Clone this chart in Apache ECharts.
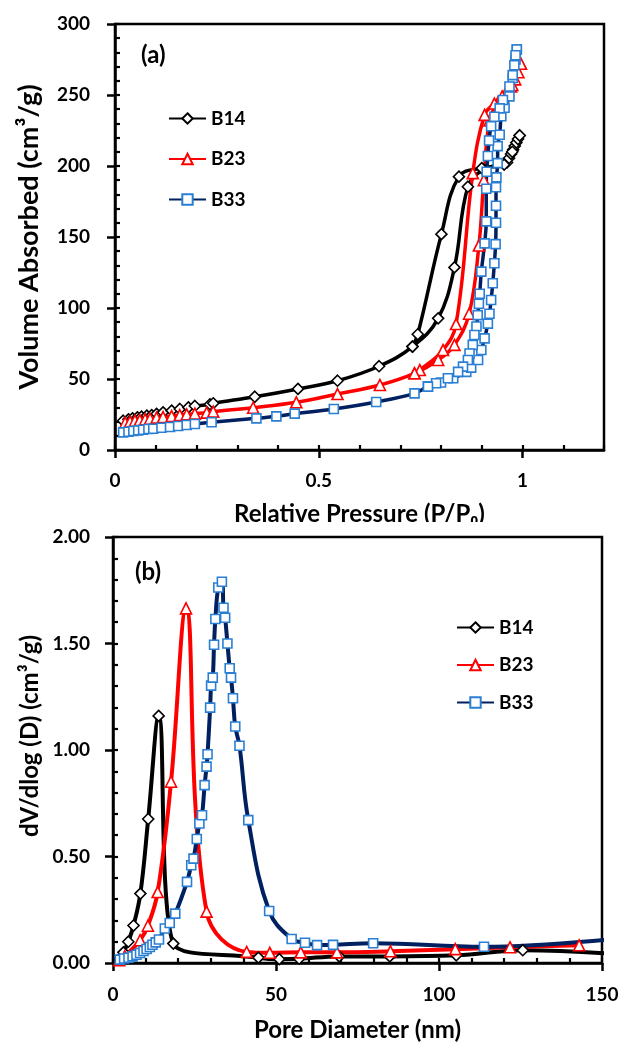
<!DOCTYPE html>
<html>
<head>
<meta charset="utf-8">
<script src="https://cdn.jsdelivr.net/npm/echarts@6/dist/echarts.min.js"></script>
<style>
  html, body { margin: 0; padding: 0; background: #fff; }
  #isotherm { width: 622px; height: 522px; overflow: hidden; }
  #poreDist { width: 622px; height: 521px; }
</style>
</head>
<body>
<div id="isotherm"></div>
<div id="poreDist"></div>
<script>
  const sampleNames = ['B14', 'B23', 'B33']

  // (a) isotherms, [P/P0, volume cm3/g]
  const b14Ads = [[0.020, 20.6], [0.033, 21.6], [0.043, 22.3], [0.055, 23.0], [0.065, 23.5], [0.078, 24.2], [0.090, 24.6], [0.102, 25.4], [0.118, 26.5], [0.139, 27.7], [0.159, 28.9], [0.180, 30.0], [0.196, 31.0], [0.233, 32.2], [0.241, 32.9], [0.343, 37.5], [0.449, 43.0], [0.546, 48.8], [0.648, 59.0], [0.730, 72.8], [0.793, 92.7], [0.833, 128.6], [0.866, 185.4], [0.905, 197.5], [0.962, 202.5], [0.967, 205.5], [0.972, 208.5], [0.977, 211.5], [0.981, 214.0], [0.985, 216.5], [0.989, 219.0], [0.993, 221.5]]
  const b14Des = [[0.993, 221.5], [0.975, 210.0], [0.955, 201.0], [0.900, 198.5], [0.844, 192.5], [0.801, 152.0], [0.743, 81.5], [0.730, 72.8]]
  const b23Ads = [[0.025, 19.2], [0.037, 20.0], [0.049, 20.6], [0.061, 21.1], [0.074, 21.6], [0.086, 22.0], [0.102, 22.8], [0.118, 23.2], [0.139, 23.9], [0.159, 24.6], [0.176, 25.1], [0.196, 25.6], [0.225, 26.3], [0.241, 27.0], [0.339, 29.8], [0.445, 33.6], [0.546, 39.4], [0.650, 45.8], [0.735, 54.0], [0.793, 63.4], [0.833, 74.0], [0.869, 96.0], [0.893, 144.0], [0.905, 190.0], [0.919, 232.0], [0.940, 245.0], [0.958, 251.0], [0.972, 256.0], [0.982, 261.0], [0.990, 266.0], [0.996, 272.0]]
  const b23Des = [[0.996, 272.0], [0.975, 257.0], [0.950, 249.0], [0.931, 244.0], [0.907, 236.0], [0.878, 195.0], [0.837, 88.7], [0.805, 70.4], [0.748, 56.3], [0.735, 54.0]]
  const b33Ads = [[0.020, 12.4], [0.033, 12.9], [0.045, 13.4], [0.057, 13.8], [0.069, 14.3], [0.082, 14.8], [0.094, 15.0], [0.114, 15.7], [0.135, 16.2], [0.155, 16.9], [0.176, 17.6], [0.196, 18.3], [0.237, 19.5], [0.347, 22.3], [0.396, 23.7], [0.441, 25.6], [0.537, 28.9], [0.641, 33.8], [0.735, 39.9], [0.768, 44.6], [0.800, 47.5], [0.830, 50.5], [0.862, 55.0], [0.874, 58.0], [0.891, 63.4], [0.899, 70.4], [0.907, 78.6], [0.915, 89.0], [0.919, 96.0], [0.923, 105.6], [0.927, 117.4], [0.931, 131.5], [0.934, 145.0], [0.935, 160.0], [0.935, 172.0], [0.935, 185.0], [0.936, 192.0], [0.939, 202.0], [0.939, 214.0], [0.944, 222.0], [0.948, 235.0], [0.956, 241.0], [0.968, 249.0], [0.976, 262.0], [0.983, 275.0], [0.986, 282.0]]
  const b33Des = [[0.986, 282.0], [0.983, 278.0], [0.980, 271.0], [0.976, 264.0], [0.968, 256.0], [0.952, 246.5], [0.944, 240.6], [0.931, 234.7], [0.923, 228.0], [0.918, 218.0], [0.915, 207.0], [0.912, 196.0], [0.911, 184.0], [0.911, 161.0], [0.907, 145.5], [0.899, 125.6], [0.895, 110.0], [0.893, 103.0], [0.890, 95.0], [0.887, 87.0], [0.882, 81.0], [0.878, 74.0], [0.870, 68.0], [0.866, 63.4], [0.854, 58.7], [0.842, 55.0], [0.817, 50.5], [0.788, 47.0], [0.768, 44.6]]

  // (b) pore size distribution, [diameter nm, dV/dlog(D)]
  const b14Pore = [[1.9, 0.017], [3.2, 0.05], [4.7, 0.10], [6.3, 0.176], [8.4, 0.326], [10.8, 0.676], [14.0, 1.16], [18.5, 0.091], [44.6, 0.025], [51.0, 0.018], [57.1, 0.020], [69.4, 0.031], [84.9, 0.031], [105.3, 0.036], [125.7, 0.060], [165.0, 0.030]]
  const b23Pore = [[1.9, 0.013], [3.6, 0.032], [8.3, 0.107], [10.7, 0.175], [13.7, 0.333], [17.8, 0.851], [22.4, 1.665], [28.7, 0.241], [41.0, 0.052], [48.1, 0.048], [57.6, 0.050], [68.7, 0.050], [85.1, 0.055], [105.0, 0.065], [121.8, 0.074], [143.0, 0.083]]
  const b33Pore = [[2.1, 0.016], [3.4, 0.021], [4.75, 0.025], [6.0, 0.031], [7.2, 0.039], [8.3, 0.047], [9.35, 0.056], [10.3, 0.066], [11.3, 0.075], [12.1, 0.086], [13.1, 0.097], [14.1, 0.11], [15.9, 0.162], [17.4, 0.188], [19.1, 0.232], [22.7, 0.381], [24.0, 0.459], [24.7, 0.49], [25.7, 0.582], [26.5, 0.655], [27.3, 0.694], [28.1, 0.835], [28.7, 0.922], [29.0, 0.98], [29.8, 1.199], [30.1, 1.302], [30.6, 1.34], [31.0, 1.494], [31.4, 1.615], [32.3, 1.763], [33.4, 1.79], [33.9, 1.668], [34.4, 1.621], [35.1, 1.5], [35.8, 1.384], [36.2, 1.34], [36.8, 1.243], [37.5, 1.11], [38.8, 1.02], [41.5, 0.671], [47.9, 0.244], [54.8, 0.113], [58.9, 0.095], [62.6, 0.084], [67.5, 0.085], [79.8, 0.093], [113.8, 0.076], [165.0, 0.13]]

  const pressureTicks = [0, 0.5, 1]

  const font = 'Lato'
  const looks = {
    B14: { line: '#000000', border: '#000000', symbol: 'diamond', size: 11 },
    B23: { line: '#ff0000', border: '#ff0000', symbol: 'triangle', size: 11 },
    B33: { line: '#002060', border: '#2a7fd4', symbol: 'rect', size: 9 }
  }

  function lineSeries (name, data, width) {
    const look = looks[name]
    return {
      name: name,
      type: 'line',
      data: data,
      smooth: 0.4,
      symbol: look.symbol,
      symbolSize: look.size,
      showAllSymbol: true,
      lineStyle: { color: look.line, width: width },
      itemStyle: { color: '#fff', borderColor: look.border, borderWidth: 1.6 },
      emphasis: { disabled: true }
    }
  }

  function mainAxis (opts) {
    return Object.assign({
      type: 'value',
      nameLocation: 'middle',
      nameMoveOverlap: false,
      axisLine: { onZero: false, lineStyle: { color: '#000', width: 2.5 } },
      axisTick: { length: 8, lineStyle: { color: '#000', width: 2.5 } },
      splitLine: { show: false }
    }, opts)
  }

  // inside ticks drawn by an overlaid bare axis
  function minorAxis (position, min, max, interval) {
    return {
      type: 'value',
      position: position,
      min: min,
      max: max,
      interval: interval,
      axisLine: { show: false, onZero: false },
      axisTick: { inside: true, length: 5, lineStyle: { color: '#000', width: 2.2 } },
      axisLabel: { show: false },
      splitLine: { show: false }
    }
  }

  const labelStyle = { color: '#000', fontSize: 19, fontWeight: 'bold', fontFamily: font }
  function nameStyle (size, extra) {
    return Object.assign({ color: '#000', fontSize: size, fontWeight: 'bold', fontFamily: font }, extra)
  }
  function legendAt (left, top, gap) {
    return {
      data: sampleNames,
      orient: 'vertical',
      left: left,
      top: top,
      itemWidth: 37,
      itemHeight: 13,
      itemGap: gap,
      textStyle: { color: '#000', fontSize: 19, fontWeight: 'bold', fontFamily: font }
    }
  }

  const chartA = echarts.init(document.getElementById('isotherm'))
  chartA.setOption({
    animation: false,
    textStyle: { fontFamily: font },
    grid: { left: 115, right: 18, top: 24, bottom: 72, show: true, borderColor: '#000', borderWidth: 2.5, outerBoundsMode: 'none' },
    legend: legendAt(163, 104, 21.5),
    graphic: [{ type: 'text', left: 141, top: 43, style: { text: '(a)', font: 'bold 24px Lato', fill: '#000' } }],
    xAxis: [
      mainAxis({
        min: 0,
        max: 1.2,
        name: 'Relative Pressure (P/P₀)',
        nameGap: 52,
        nameTextStyle: nameStyle(24),
        axisTick: { length: 8, customValues: pressureTicks, lineStyle: { color: '#000', width: 2.5 } },
        axisLabel: Object.assign({ margin: 21, customValues: pressureTicks }, labelStyle)
      }),
      minorAxis('bottom', 0, 1.2, 0.1)
    ],
    yAxis: [
      mainAxis({
        min: 0,
        max: 300,
        interval: 50,
        name: 'Volume Absorbed (cm³/g)',
        nameGap: 72,
        nameTextStyle: nameStyle(27),
        axisLabel: Object.assign({ margin: 25 }, labelStyle)
      }),
      minorAxis('left', 0, 300, 10)
    ],
    series: [
      lineSeries('B14', b14Ads, 3.5), lineSeries('B14', b14Des, 3.5),
      lineSeries('B23', b23Ads, 3.5), lineSeries('B23', b23Des, 3.5),
      lineSeries('B33', b33Ads, 3.5), lineSeries('B33', b33Des, 3.5)
    ]
  })

  const chartB = echarts.init(document.getElementById('poreDist'))
  chartB.setOption({
    animation: false,
    textStyle: { fontFamily: font },
    grid: { left: 113, right: 20, top: 15, bottom: 80, show: true, borderColor: '#000', borderWidth: 2.5, outerBoundsMode: 'none' },
    legend: legendAt(451, 91, 18.5),
    graphic: [{ type: 'text', left: 135, top: 38, style: { text: '(b)', font: 'bold 24px Lato', fill: '#000' } }],
    xAxis: [
      mainAxis({
        min: 0,
        max: 150,
        interval: 50,
        name: 'Pore Diameter (nm)',
        nameGap: 55,
        nameTextStyle: nameStyle(24),
        axisLabel: Object.assign({ margin: 22 }, labelStyle)
      }),
      minorAxis('bottom', 0, 150, 10)
    ],
    yAxis: [
      mainAxis({
        min: 0,
        max: 2,
        interval: 0.5,
        name: 'dV/dlog (D) (cm³/g)',
        nameGap: 71,
        nameTextStyle: nameStyle(24, { padding: [0, 0, 0, 28] }),
        axisLabel: Object.assign({ margin: 23, formatter: v => v.toFixed(2) }, labelStyle)
      }),
      minorAxis('left', 0, 2, 0.1)
    ],
    series: [
      lineSeries('B14', b14Pore, 4),
      lineSeries('B23', b23Pore, 4),
      lineSeries('B33', b33Pore, 4)
    ]
  })
</script>
</body>
</html>
